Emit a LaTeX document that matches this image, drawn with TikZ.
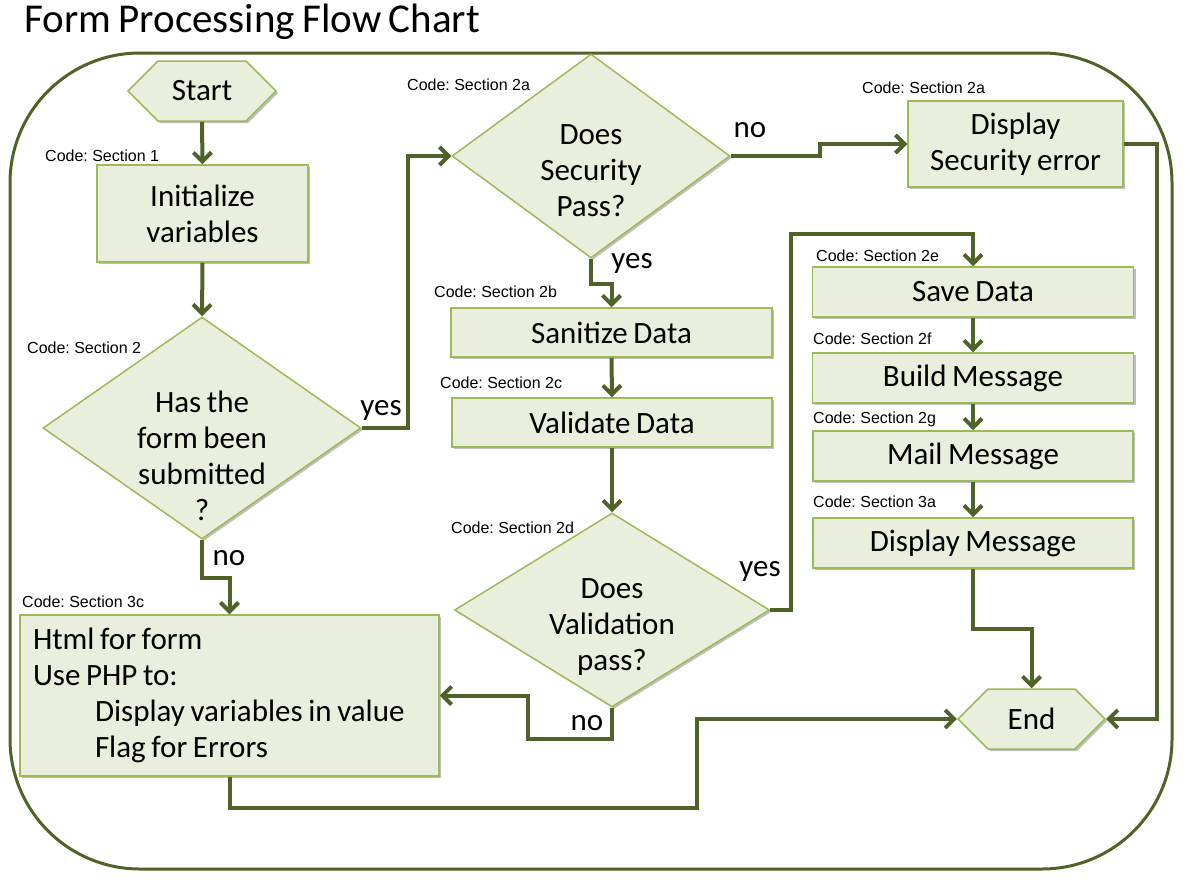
\documentclass[tikz,border=0pt]{standalone}
\usepackage{fontspec}
\setmainfont{Carlito}[WordSpace=0.8]
\newfontfamily\codefont{Liberation Sans}
\usetikzlibrary{shapes.geometric,shapes.symbols,shadows,arrows.meta}

\definecolor{boxfill}{RGB}{234,239,221}
\definecolor{boxline}{RGB}{155,187,89}
\definecolor{flowline}{RGB}{79,98,40}

\begin{document}
\frenchspacing
\begin{tikzpicture}[x=1pt,y=-1pt,font=\fontsize{31}{36}\selectfont,
    >={Straight Barb[length=9pt,width=18pt]}]
    \tikzset{
        boxshadow/.style={drop shadow={shadow xshift=2pt,shadow yshift=-2pt,
            opacity=0.25,fill=black}},
        procbox/.style={draw=boxline,fill=boxfill,line width=1.5pt,
            inner sep=0pt,align=center,boxshadow},
        termbox/.style={procbox,signal,signal to=west and east,
            signal pointer angle=90},
        decbox/.style={procbox,diamond},
        codelbl/.style={anchor=west,inner sep=0pt,
            font=\codefont\fontsize{16}{18}\selectfont},
        answer/.style={inner sep=0pt},
        flow/.style={->,draw=flowline,line width=4pt},
        frame/.style={draw=flowline,line width=3pt,rounded corners=130pt}
    }
    \useasboundingbox (0,0) rectangle (1185,881);

    \node[anchor=west,inner sep=0pt,font=\fontsize{41}{46}\selectfont]
        (title) at (24,22) {Form Processing Flow Chart};
    \draw[frame] (10,53) rectangle (1172,869);

    % left column
    \node[termbox,minimum width=148pt,minimum height=60pt]
        (start) at (202,91) {Start};
    \node[procbox,minimum width=211pt,minimum height=97pt]
        (init) at (202.5,213.5) {Initialize\\variables};
    \node[decbox,minimum width=318pt,minimum height=222pt]
        (hasform) at (202,428) {};
    \node[align=center,inner sep=0pt] (hasformtxt) at (202,456)
        {Has the\\form been\\submitted\\?};
    \node[procbox,minimum width=419pt,minimum height=161pt,
        text width=393pt,align=flush left] (html) at (229.5,695.5)
        {Html for form\\Use PHP to:\\
         \hspace*{62pt}Display variables in value\\
         \hspace*{62pt}Flag for Errors};

    % middle column
    \node[decbox,minimum width=278pt,minimum height=204pt]
        (secdiam) at (591,156) {};
    \node[align=center,inner sep=0pt] (secdiamtxt) at (591,171)
        {Does\\Security\\Pass?};
    \node[procbox,minimum width=321pt,minimum height=49pt]
        (sanitize) at (611.5,332.5) {Sanitize Data};
    \node[procbox,minimum width=320pt,minimum height=49pt]
        (validate) at (612,422.5) {Validate Data};
    \node[decbox,minimum width=315pt,minimum height=194pt]
        (valdiam) at (612,610) {};
    \node[align=center,inner sep=0pt] (valdiamtxt) at (612,627)
        {Does\\Validation\\pass?};

    % right column
    \node[procbox,minimum width=215pt,minimum height=86pt]
        (secerr) at (1015.5,144) {Display\\Security error};
    \node[procbox,minimum width=321pt,minimum height=50pt]
        (save) at (973,292) {Save Data};
    \node[procbox,minimum width=321pt,minimum height=50pt]
        (build) at (973,378) {Build Message};
    \node[procbox,minimum width=320pt,minimum height=50pt]
        (mail) at (973,456) {Mail Message};
    \node[procbox,minimum width=320pt,minimum height=50pt]
        (dispmsg) at (973,543) {Display Message};
    \node[termbox,minimum width=147pt,minimum height=60pt]
        (endnode) at (1031.5,719) {End};

    % code references
    \node[codelbl] (lblinit) at (45,156) {Code: Section 1};
    \node[codelbl] (lblhasform) at (27,348) {Code: Section 2};
    \node[codelbl] (lblsecdiam) at (407,85) {Code: Section 2a};
    \node[codelbl] (lblsecerr) at (862,88) {Code: Section 2a};
    \node[codelbl] (lblsanitize) at (434,292) {Code: Section 2b};
    \node[codelbl] (lblvalidate) at (440,383) {Code: Section 2c};
    \node[codelbl] (lblvaldiam) at (451,528) {Code: Section 2d};
    \node[codelbl] (lblsave) at (816,256) {Code: Section 2e};
    \node[codelbl] (lblbuild) at (813,339) {Code: Section 2f};
    \node[codelbl] (lblmail) at (813,419) {Code: Section 2g};
    \node[codelbl] (lbldispmsg) at (813,502) {Code: Section 3a};
    \node[codelbl] (lblhtml) at (22,602) {Code: Section 3c};

    % answers
    \node[answer] (hasformyes) at (381,410) {yes};
    \node[answer] (hasformno) at (229,558) {no};
    \node[answer] (secdiamno) at (750,130) {no};
    \node[answer] (secdiamyes) at (632,263) {yes};
    \node[answer] (valdiamyes) at (760,571) {yes};
    \node[answer] (valdiamno) at (587,723) {no};

    % connectors
    \draw[flow] (start.south) -- (init.north);
    \draw[flow] (init.south) -- (hasform.north);
    \draw[flow] (hasform.east) -- ++(46,0) |- (secdiam.west);
    \draw[flow] (hasform.south) -- ++(0,38) -| (html.north);
    \draw[flow] (secdiam.east) -- ++(89,0) |- (secerr.west);
    \draw[flow] (secdiam.south) -- ++(0,25) -| (sanitize.north);
    \draw[flow] (sanitize.south) -- (validate.north);
    \draw[flow] (validate.south) -- (valdiam.north);
    \draw[flow] (valdiam.east) -- ++(21,0) |- ([yshift=32pt]save.north)
        -- (save.north);
    \draw[flow] (valdiam.south) -- ++(0,31) -- ++(-84,0) |- (html.east);
    \draw[flow] (save.south) -- (build.north);
    \draw[flow] (build.south) -- (mail.north);
    \draw[flow] (mail.south) -- (dispmsg.north);
    \draw[flow] (dispmsg.south) -- ++(0,60) -| (endnode.north);
    \draw[flow] (secerr.east) -- ++(33,0) |- (endnode.east);
    \draw[flow] (html.south) -- ++(0,31) -- ++(467,0) |- (endnode.west);
\end{tikzpicture}
\end{document}
